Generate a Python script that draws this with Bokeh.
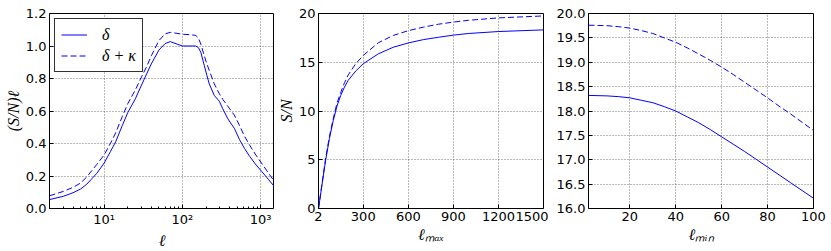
from bokeh.plotting import figure
from bokeh.layouts import row
from bokeh.models import (FixedTicker, Range1d, PrintfTickFormatter, Legend,
                          LegendItem)
from bokeh.embed import file_html
from bokeh.resources import INLINE

# ---------------- data ----------------
# panel 1: per-multipole S/N vs ell (log x)
ell = [2, 3, 4, 5, 6, 7, 8, 10, 12, 14, 17, 20, 25, 30, 35, 40, 50, 60, 70,
       85, 100, 125, 148, 160, 172, 190, 205, 220, 255, 296, 327, 379, 421,
       460, 537, 620, 722, 850, 1020, 1250, 1500]
sn_delta = [0.055, 0.075, 0.097, 0.12, 0.15, 0.185, 0.215, 0.28, 0.35, 0.41,
            0.51, 0.59, 0.675, 0.76, 0.83, 0.89, 0.975, 1.015, 1.027, 1.012,
            1.0, 1.0, 1.0, 0.99, 0.96, 0.88, 0.82, 0.767, 0.696, 0.66, 0.614,
            0.553, 0.52, 0.494, 0.423, 0.37, 0.321, 0.275, 0.23, 0.18, 0.134]
sn_delta_kappa = [0.078, 0.105, 0.13, 0.157, 0.195, 0.235, 0.27, 0.33, 0.40,
                  0.465, 0.565, 0.645, 0.73, 0.81, 0.875, 0.94, 1.033, 1.075,
                  1.084, 1.078, 1.072, 1.07, 1.065, 1.05, 1.01, 0.94, 0.89,
                  0.85, 0.767, 0.706, 0.672, 0.63, 0.60, 0.575, 0.51, 0.445,
                  0.39, 0.335, 0.28, 0.22, 0.165]

# panel 2: cumulative S/N vs ell_max
lmax = [2, 25, 50, 75, 100, 125, 150, 175, 200, 250, 300, 400, 500, 600, 700,
        800, 900, 1000, 1200, 1500]
cum_delta = [0.0, 2.4, 5.0, 7.2, 9.0, 10.5, 11.6, 12.45, 13.15, 14.1, 14.85,
             15.86, 16.54, 16.98, 17.32, 17.56, 17.78, 17.95, 18.15, 18.32]
cum_delta_kappa = [0.0, 2.5, 5.2, 7.4, 9.2, 10.8, 11.9, 12.9, 13.7, 14.85,
                   15.7, 17.0, 17.75, 18.24, 18.6, 18.9, 19.12, 19.3, 19.55,
                   19.75]

# panel 3: S/N vs ell_min
lmin = [2, 10, 15, 20, 25, 30, 35, 40, 45, 50, 55, 60, 65, 70, 75, 80, 85,
        90, 95, 100]
min_delta = [18.32, 18.31, 18.295, 18.27, 18.22, 18.17, 18.09, 18.0, 17.88,
             17.76, 17.62, 17.47, 17.32, 17.17, 17.01, 16.85, 16.69, 16.53,
             16.37, 16.21]
min_delta_kappa = [19.76, 19.75, 19.73, 19.70, 19.65, 19.59, 19.50, 19.41,
                   19.295, 19.17, 19.04, 18.90, 18.75, 18.59, 18.43, 18.27,
                   18.10, 17.94, 17.77, 17.6]

# tick definitions
p1_xticks = [10, 100, 1000]
p1_xminor = [2, 3, 4, 5, 6, 7, 8, 9, 20, 30, 40, 50, 60, 70, 80, 90,
             200, 300, 400, 500, 600, 700, 800, 900]
p1_xlabels = {10: "10¹", 100: "10²", 1000: "10³"}
p1_yticks = [0.0, 0.2, 0.4, 0.6, 0.8, 1.0, 1.2]
p2_xticks = [2, 300, 600, 900, 1200, 1500]
p2_yticks = [0, 5, 10, 15, 20]
p3_xticks = [20, 40, 60, 80, 100]
p3_yticks = [16.0, 16.5, 17.0, 17.5, 18.0, 18.5, 19.0, 19.5, 20.0]

# ---------------- style ----------------
BLUE = "#0000ff"
TICK_FONT = "DejaVu Sans"
LABEL_FONT = "Liberation Serif"
DASH = "6 3"
H = 251


def style_axis(ax, minor=False, xaxis=False):
    ax.major_tick_in = 4
    ax.major_tick_out = 0
    ax.minor_tick_in = 2 if minor else 0
    ax.minor_tick_out = 0
    ax.axis_line_color = None
    ax.major_tick_line_color = "black"
    ax.minor_tick_line_color = "black"
    ax.major_label_text_font = TICK_FONT
    ax.major_label_text_font_size = "13px"
    ax.major_label_text_color = "black"
    ax.major_label_standoff = 3
    ax.axis_label_text_font = LABEL_FONT
    ax.axis_label_text_font_style = "italic"
    ax.axis_label_text_font_size = "16px"
    ax.axis_label_text_color = "black"
    ax.axis_label_standoff = 2 if xaxis else 1


def make_fig(width, left, right, x_range, y_range, x_type="linear"):
    p = figure(width=width, height=H, x_axis_type=x_type,
               x_range=x_range, y_range=y_range,
               output_backend="svg", toolbar_location=None,
               min_border_left=left, min_border_right=right,
               min_border_top=13, min_border_bottom=42)
    p.outline_line_color = "black"
    p.outline_line_width = 1
    p.outline_line_alpha = 1
    p.background_fill_color = "white"
    p.border_fill_color = "white"
    for g in (p.xgrid[0], p.ygrid[0]):
        g.grid_line_color = "black"
        g.grid_line_alpha = 0.55
        g.grid_line_dash = "1 2"
        g.grid_line_width = 1
    return p


# ---------------- panel 1 ----------------
p1 = make_fig(274, 49, 0, Range1d(2, 1500), Range1d(0, 1.2), x_type="log")
xt1 = FixedTicker(ticks=p1_xticks, minor_ticks=p1_xminor)
yt1 = FixedTicker(ticks=p1_yticks)
p1.xaxis.ticker = xt1
p1.xgrid[0].ticker = xt1
p1.xaxis.major_label_overrides = p1_xlabels
p1.yaxis.ticker = yt1
p1.ygrid[0].ticker = yt1
p1.yaxis.formatter = PrintfTickFormatter(format="%.1f")
style_axis(p1.xaxis[0], minor=True, xaxis=True)
style_axis(p1.yaxis[0])
p1.xaxis.axis_label = "ℓ"
p1.yaxis.axis_label = "(S/N)ℓ"

r1 = p1.line(ell, sn_delta, line_color=BLUE, line_width=1)
r2 = p1.line(ell, sn_delta_kappa, line_color=BLUE, line_width=1,
             line_dash=DASH)
legend = Legend(items=[LegendItem(label="δ", renderers=[r1]),
                       LegendItem(label="δ + κ", renderers=[r2])],
                location="top_left", margin=5, padding=6, spacing=2,
                glyph_width=26, glyph_height=19, label_height=19,
                label_standoff=15, label_text_font=LABEL_FONT,
                label_text_font_style="italic",
                label_text_font_size="16px", label_text_color="black",
                border_line_color="black", border_line_width=1.5,
                border_line_alpha=0.8, background_fill_color="white",
                background_fill_alpha=1)
p1.add_layout(legend)

# ---------------- panel 2 ----------------
p2 = make_fig(274, 44, 5, Range1d(2, 1500), Range1d(0, 20))
xt2 = FixedTicker(ticks=p2_xticks)
yt2 = FixedTicker(ticks=p2_yticks)
p2.xaxis.ticker = xt2
p2.xgrid[0].ticker = xt2
p2.yaxis.ticker = yt2
p2.ygrid[0].ticker = yt2
style_axis(p2.xaxis[0], xaxis=True)
style_axis(p2.yaxis[0])
p2.xaxis.axis_label = "ℓₘₐₓ"
p2.yaxis.axis_label = "S/N"
p2.line(lmax, cum_delta, line_color=BLUE, line_width=1)
p2.line(lmax, cum_delta_kappa, line_color=BLUE, line_width=1, line_dash=DASH)

# ---------------- panel 3 ----------------
p3 = make_fig(283, 40, 18, Range1d(2, 100), Range1d(16, 20))
xt3 = FixedTicker(ticks=p3_xticks)
yt3 = FixedTicker(ticks=p3_yticks)
p3.xaxis.ticker = xt3
p3.xgrid[0].ticker = xt3
p3.yaxis.ticker = yt3
p3.ygrid[0].ticker = yt3
p3.yaxis.formatter = PrintfTickFormatter(format="%.1f")
style_axis(p3.xaxis[0], xaxis=True)
style_axis(p3.yaxis[0])
p3.xaxis.axis_label = "ℓₘᵢₙ"
p3.line(lmin, min_delta, line_color=BLUE, line_width=1)
p3.line(lmin, min_delta_kappa, line_color=BLUE, line_width=1, line_dash=DASH)

layout = row(p1, p2, p3)
open("out.html", "w").write(file_html(layout, INLINE))
